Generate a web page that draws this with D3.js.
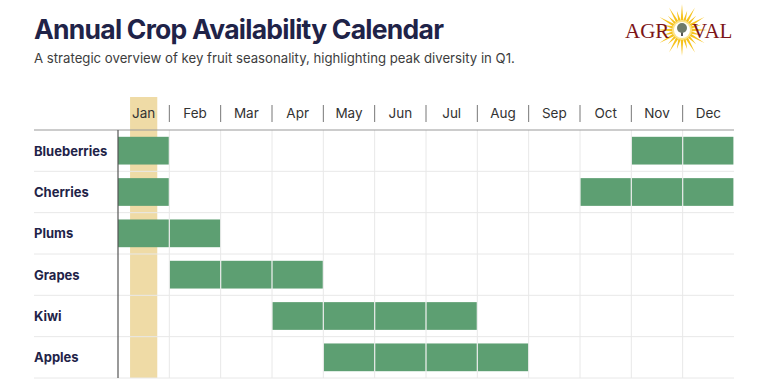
<!DOCTYPE html>
<html>
<head>
<meta charset="utf-8">
<script src="https://cdn.jsdelivr.net/npm/d3@7"></script>
<style>
  html, body { margin: 0; padding: 0; background: #fff; }
  svg { display: block; font-family: Inter, "Noto Sans", sans-serif; }
</style>
</head>
<body>
<svg id="chart" width="768" height="386"></svg>
<script>
// Chart data
const months = ['Jan', 'Feb', 'Mar', 'Apr', 'May', 'Jun', 'Jul', 'Aug', 'Sep', 'Oct', 'Nov', 'Dec'];
const crops = ['Blueberries', 'Cherries', 'Plums', 'Grapes', 'Kiwi', 'Apples'];
// months in season for each crop (same order as crops)
const seasons = [
    ['Jan', 'Nov', 'Dec'],
    ['Jan', 'Oct', 'Nov', 'Dec'],
    ['Jan', 'Feb'],
    ['Feb', 'Mar', 'Apr'],
    ['Apr', 'May', 'Jun', 'Jul'],
    ['May', 'Jun', 'Jul', 'Aug']
];
const highlightMonth = 'Jan';

const title = 'Annual Crop Availability Calendar';
const subtitle = 'A strategic overview of key fruit seasonality, highlighting peak diversity in Q1.';

const svg = d3.select('#chart');
const margin = { top: 130, right: 34, bottom: 8, left: 118 };
const width = 768, height = 386;

const x = d3.scaleBand().domain(months).range([margin.left, width - margin.right]);
const y = d3.scaleBand().domain(crops).range([margin.top, height - margin.bottom]);
const barPad = 6.8;

// Title block
svg.append('text')
    .attr('x', 34).attr('y', 39)
    .attr('font-size', 26.5).attr('font-weight', 700)
    .attr('letter-spacing', -0.75)
    .attr('fill', '#1f2348')
    .text(title);

svg.append('text')
    .attr('x', 34).attr('y', 63)
    .attr('font-size', 13.2)
    .attr('fill', '#3d3d3d')
    .text(subtitle);

// Jan highlight band
const hw = x.bandwidth() * 0.53;
svg.append('rect')
    .attr('x', x(highlightMonth) + (x.bandwidth() - hw) / 2)
    .attr('y', 97)
    .attr('width', hw)
    .attr('height', height - margin.bottom - 97)
    .attr('fill', '#efdba6');

// grid lines
svg.append('g').selectAll('line')
    .data(crops.slice(1).concat(['end']))
    .join('line')
    .attr('x1', 34).attr('x2', width - margin.right)
    .attr('y1', d => d === 'end' ? height - margin.bottom : y(d))
    .attr('y2', d => d === 'end' ? height - margin.bottom : y(d))
    .attr('stroke', '#e8e8e8').attr('stroke-width', 1);

svg.append('g').selectAll('line')
    .data(months.slice(1))
    .join('line')
    .attr('x1', d => x(d)).attr('x2', d => x(d))
    .attr('y1', margin.top).attr('y2', height - margin.bottom)
    .attr('stroke', '#e8e8e8').attr('stroke-width', 1);

// bars, one cell per month
const cells = [];
crops.forEach((c, i) => seasons[i].forEach(m => cells.push({ crop: c, month: m })));

svg.append('g').selectAll('rect')
    .data(cells)
    .join('rect')
    .attr('x', d => x(d.month) + (d.month === 'Jan' ? 0 : 0.6))
    .attr('y', d => y(d.crop) + barPad)
    .attr('width', d => x.bandwidth() - (d.month === 'Jan' ? 0.6 : 1.2))
    .attr('height', y.bandwidth() - barPad * 2)
    .attr('fill', '#5d9f72');

// header line and left axis line
svg.append('line')
    .attr('x1', 34).attr('x2', width - margin.right)
    .attr('y1', margin.top).attr('y2', margin.top)
    .attr('stroke', '#9a9a9a').attr('stroke-width', 1.2);

svg.append('line')
    .attr('x1', margin.left).attr('x2', margin.left)
    .attr('y1', margin.top).attr('y2', height - margin.bottom)
    .attr('stroke', '#555').attr('stroke-width', 1.2);

// month labels + separators
svg.append('g').selectAll('text')
    .data(months)
    .join('text')
    .attr('x', d => x(d) + x.bandwidth() / 2)
    .attr('y', 118)
    .attr('text-anchor', 'middle')
    .attr('font-size', 13.5)
    .attr('fill', '#333')
    .text(d => d);

svg.append('g').selectAll('line')
    .data(months.slice(1))
    .join('line')
    .attr('x1', d => x(d)).attr('x2', d => x(d))
    .attr('y1', 105).attr('y2', 122)
    .attr('stroke', '#777').attr('stroke-width', 1);

// crop labels
svg.append('g').selectAll('text')
    .data(crops)
    .join('text')
    .attr('x', 34)
    .attr('y', d => y(d) + y.bandwidth() / 2 + 5)
    .attr('font-size', 13).attr('font-weight', 700)
    .attr('fill', '#1f2348')
    .text(d => d);

// Logo
const logo = svg.append('g');
const sunX = 682, sunY = 30;
const rays = d3.range(24);
logo.append('g').selectAll('path')
    .data(rays)
    .join('path')
    .attr('d', (d, i) => {
        const a = i / rays.length * 2 * Math.PI;
        const r = i % 2 ? 20 : 26;
        const w = 0.18;
        return `M${sunX + 8 * Math.cos(a - w)},${sunY + 8 * Math.sin(a - w)}`
            + `L${sunX + r * Math.cos(a)},${sunY + r * Math.sin(a)}`
            + `L${sunX + 8 * Math.cos(a + w)},${sunY + 8 * Math.sin(a + w)}Z`;
    })
    .attr('fill', '#f6c21c');
logo.append('circle').attr('cx', sunX).attr('cy', sunY).attr('r', 10).attr('fill', '#fbe38a');
logo.append('circle').attr('cx', sunX).attr('cy', sunY).attr('r', 8).attr('fill', '#fff');
logo.append('rect').attr('x', sunX - 1).attr('y', sunY).attr('width', 2).attr('height', 6).attr('fill', '#555');
logo.append('circle').attr('cx', sunX).attr('cy', sunY - 2).attr('r', 5).attr('fill', '#6f7a6a');

logo.append('text')
    .attr('x', 625).attr('y', 38)
    .attr('font-family', '"Liberation Serif", "DejaVu Serif", serif')
    .attr('font-size', 21)
    .attr('fill', '#7c1518')
    .text('AGR');
logo.append('text')
    .attr('x', 692).attr('y', 38)
    .attr('font-family', '"Liberation Serif", "DejaVu Serif", serif')
    .attr('font-size', 21)
    .attr('fill', '#7c1518')
    .text('VAL');
</script>
</body>
</html>
